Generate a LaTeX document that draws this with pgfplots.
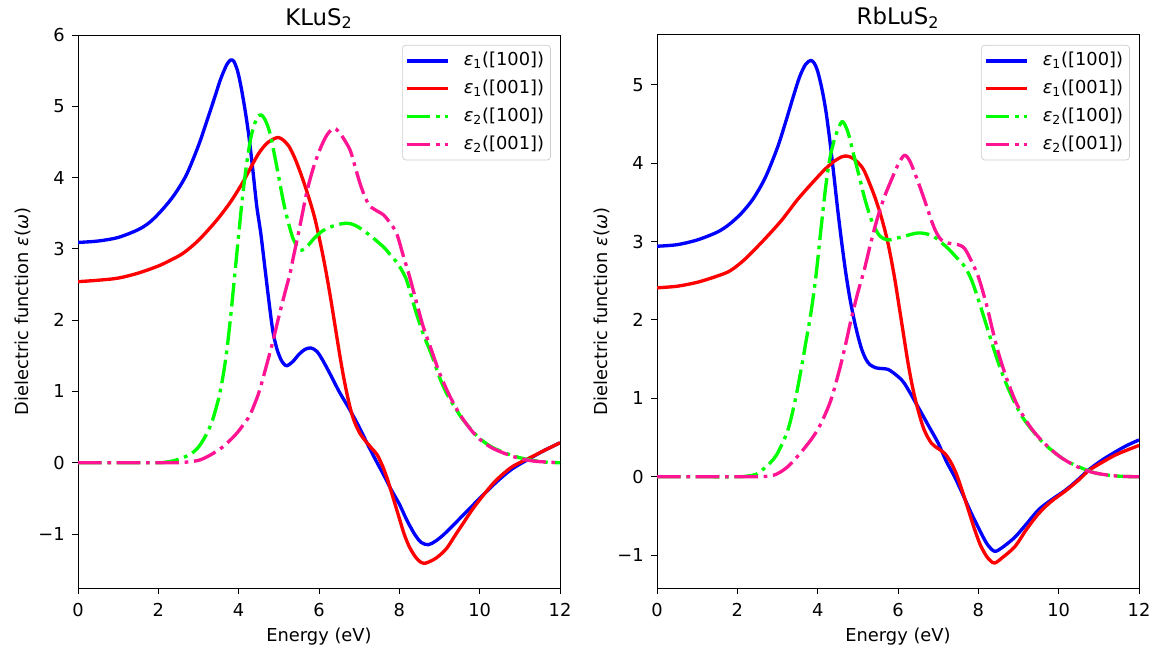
\documentclass[border=0pt]{standalone}
\usepackage{fontspec}
\setmainfont{DejaVu Sans}
\usepackage{pgfplots}
\pgfplotsset{compat=1.18}
\definecolor{mpink}{RGB}{255,20,147}
\definecolor{mgreen}{RGB}{0,255,0}
\begin{document}
\fontsize{10.7pt}{12.8pt}\selectfont
\begin{tikzpicture}
\pgfplotsset{
  panel/.style={
    scale only axis, width=289.2pt, height=331.8pt,
    xmin=0, xmax=12, xtick={0,2,...,12},
    tick align=outside, major tick length=3.6pt,
    tick style={black, line width=0.6pt},
    axis line style={line width=0.6pt},
    xtick pos=lower, ytick pos=left,
    /pgf/number format/assume math mode=true,
    xticklabel style={anchor=base, inner sep=0pt, yshift=-13.6pt},
    yticklabel style={anchor=east, inner sep=0pt, xshift=-4.2pt},
    xlabel={Energy (eV)},
    ylabel={Dielectric function {\itshape ε}({\itshape ω})},
    xlabel style={at={(axis description cs:0.5,-0.0971)}, anchor=base},
    ylabel style={at={(axis description cs:-0.1037,0.5)}, anchor=base},
    title style={at={(axis description cs:0.5,1)}, anchor=base, font=\fontsize{13.7pt}{16pt}\selectfont},
    legend cell align=left,
    legend style={at={(axis description cs:0.981,0.982)}, anchor=north east,
      draw=black!20, fill=white, rounded corners=2pt, inner xsep=1.5pt, inner ysep=1pt,
      row sep=0pt, column sep=6pt, font=\fontsize{10.7pt}{12.8pt}\selectfont,
      nodes={inner sep=2.35pt, text height=9pt, text depth=3pt}},
    legend image code/.code={\draw[##1] (0pt,0pt) -- (25pt,0pt);},
  },
  c1/.style={blue, line width=2pt, smooth, line join=round},
  c2/.style={red, line width=2pt, smooth, line join=round},
  c3/.style={mgreen, line width=2pt, smooth, line join=round, dash pattern=on 14.2pt off 3.4pt on 2.2pt off 3.4pt},
  c4/.style={mpink, line width=2pt, smooth, line join=round, dash pattern=on 14.2pt off 3.4pt on 2.2pt off 3.4pt},
}
% ---------------- KLuS2 ----------------
\begin{axis}[panel, at={(46.8pt,40.2pt)}, anchor=south west,
  ymin=-1.757, ymax=6.0, ytick={-1,0,...,6},
  yticklabels={−1,0,1,2,3,4,5,6},
  title={KLuS\textsubscript{2}}]
\addplot[c1] coordinates {
(0,3.09)(0.5,3.11)(1.0,3.16)(1.5,3.27)(1.8,3.38)(2.1,3.55)(2.4,3.76)(2.7,4.04)
(3.0,4.45)(3.2,4.78)(3.4,5.12)(3.55,5.38)(3.7,5.58)(3.8,5.65)(3.88,5.63)(3.97,5.50)
(4.05,5.30)(4.15,4.98)(4.25,4.60)(4.35,4.12)(4.45,3.60)(4.55,3.22)(4.65,2.75)
(4.75,2.28)(4.85,1.85)(4.95,1.60)(5.05,1.45)(5.12,1.39)(5.2,1.36)(5.35,1.42)
(5.5,1.52)(5.65,1.59)(5.8,1.61)(5.95,1.56)(6.1,1.43)(6.3,1.22)(6.5,1.0)(6.77,0.74)
(7.0,0.50)(7.2,0.27)(7.4,0.05)(7.6,-0.16)(7.8,-0.38)(8.0,-0.58)(8.2,-0.82)(8.4,-1.02)
(8.55,-1.12)(8.72,-1.15)(8.9,-1.10)(9.1,-1.01)(9.3,-0.90)(9.65,-0.70)(10.0,-0.50)
(10.42,-0.27)(10.8,-0.09)(11.25,0.06)(11.6,0.17)(12,0.28)};
\addlegendentry{{\itshape ε}\textsubscript{1}([100])}
\addplot[c2] coordinates {
(0,2.54)(0.5,2.56)(1.0,2.59)(1.5,2.66)(2.0,2.76)(2.3,2.84)(2.62,2.94)(3.0,3.12)
(3.45,3.40)(3.8,3.66)(4.1,3.93)(4.3,4.14)(4.5,4.34)(4.7,4.48)(4.9,4.55)(5.0,4.56)
(5.1,4.53)(5.25,4.44)(5.4,4.27)(5.55,4.05)(5.7,3.80)(5.8,3.62)(5.9,3.42)(6.0,3.17)
(6.1,2.90)(6.2,2.60)(6.3,2.27)(6.4,1.92)(6.52,1.50)(6.62,1.18)(6.73,0.88)(6.82,0.68)
(6.9,0.55)(7.02,0.41)(7.15,0.31)(7.3,0.21)(7.45,0.11)(7.6,-0.07)(7.72,-0.26)
(7.85,-0.50)(8.0,-0.78)(8.12,-1.0)(8.25,-1.18)(8.4,-1.32)(8.52,-1.39)(8.64,-1.41)
(8.85,-1.36)(9.0,-1.30)(9.18,-1.20)(9.4,-1.01)(9.6,-0.84)(9.8,-0.67)(10.0,-0.52)
(10.2,-0.38)(10.42,-0.24)(10.8,-0.06)(11.25,0.07)(11.6,0.17)(12,0.28)};
\addlegendentry{{\itshape ε}\textsubscript{1}([001])}
\addplot[c3] coordinates {
(0,0)(1.0,0)(2.0,0)(2.2,0.01)(2.4,0.03)(2.6,0.07)(2.8,0.12)(3.0,0.22)(3.2,0.40)
(3.35,0.60)(3.5,0.90)(3.6,1.18)(3.7,1.55)(3.8,2.05)(3.9,2.62)(4.0,3.20)(4.1,3.75)
(4.2,4.20)(4.3,4.55)(4.4,4.76)(4.5,4.87)(4.56,4.88)(4.65,4.82)(4.78,4.62)(4.95,4.15)
(5.1,3.7)(5.2,3.45)(5.35,3.15)(5.5,3.0)(5.57,2.98)(5.7,3.03)(5.9,3.16)(6.11,3.26)
(6.4,3.33)(6.69,3.36)(6.9,3.33)(7.2,3.22)(7.6,3.03)(7.77,2.92)(7.95,2.8)(8.1,2.66)
(8.2,2.53)(8.4,2.14)(8.6,1.8)(8.8,1.52)(9.0,1.2)(9.18,0.97)(9.4,0.76)(9.59,0.60)
(9.8,0.46)(10.0,0.34)(10.3,0.22)(10.67,0.13)(11.0,0.07)(11.25,0.04)(11.6,0.01)(12,0.0)};
\addlegendentry{{\itshape ε}\textsubscript{2}([100])}
\addplot[c4] coordinates {
(0,0)(1.0,0)(2.0,0)(2.4,0)(2.6,0.005)(2.8,0.015)(3.04,0.04)(3.3,0.11)(3.6,0.22)
(3.9,0.38)(4.1,0.52)(4.28,0.67)(4.5,0.98)(4.7,1.38)(4.86,1.72)(5.0,2.05)(5.15,2.38)
(5.28,2.66)(5.36,2.88)(5.5,3.25)(5.69,3.78)(5.85,4.12)(6.02,4.39)(6.2,4.6)(6.38,4.69)
(6.55,4.6)(6.77,4.39)(6.9,4.15)(7.02,3.92)(7.15,3.72)(7.27,3.6)(7.45,3.53)(7.6,3.48)
(7.75,3.38)(7.93,3.22)(8.1,2.9)(8.26,2.6)(8.45,2.2)(8.6,1.9)(8.8,1.58)(9.0,1.26)
(9.2,1.0)(9.4,0.78)(9.6,0.6)(9.8,0.45)(10.0,0.33)(10.3,0.21)(10.67,0.12)(11.0,0.06)
(11.4,0.02)(12,0.0)};
\addlegendentry{{\itshape ε}\textsubscript{2}([001])}
\end{axis}
% ---------------- RbLuS2 ----------------
\begin{axis}[panel, at={(394.2pt,40.2pt)}, anchor=south west,
  ymin=-1.418, ymax=5.634, ytick={-1,0,...,5},
  yticklabels={−1,0,1,2,3,4,5},
  title={RbLuS\textsubscript{2}}]
\addplot[c1] coordinates {
(0,2.94)(0.5,2.96)(1.0,3.02)(1.5,3.12)(1.8,3.22)(2.1,3.36)(2.4,3.55)(2.7,3.82)
(3.0,4.20)(3.2,4.52)(3.4,4.86)(3.55,5.10)(3.7,5.26)(3.83,5.31)(3.92,5.27)(4.0,5.17)
(4.1,4.96)(4.2,4.68)(4.3,4.30)(4.4,3.86)(4.5,3.40)(4.6,2.98)(4.7,2.60)(4.8,2.28)
(4.9,2.02)(5.0,1.80)(5.1,1.62)(5.2,1.50)(5.3,1.43)(5.45,1.39)(5.6,1.38)(5.75,1.37)
(5.95,1.30)(6.16,1.19)(6.5,0.89)(6.75,0.66)(7.0,0.43)(7.2,0.20)(7.41,0.0)
(7.6,-0.21)(7.83,-0.47)(8.1,-0.75)(8.25,-0.88)(8.41,-0.95)(8.6,-0.90)(8.91,-0.77)
(9.2,-0.60)(9.5,-0.42)(9.8,-0.30)(10.17,-0.17)(10.45,-0.05)(10.75,0.09)(11.1,0.22)
(11.42,0.32)(11.7,0.40)(12,0.47)};
\addlegendentry{{\itshape ε}\textsubscript{1}([100])}
\addplot[c2] coordinates {
(0,2.41)(0.5,2.43)(1.0,2.48)(1.5,2.56)(1.83,2.63)(2.2,2.78)(2.66,3.02)(3.1,3.27)
(3.49,3.53)(3.85,3.74)(4.16,3.91)(4.4,4.02)(4.6,4.08)(4.72,4.09)(4.85,4.07)(5.0,4.01)
(5.16,3.90)(5.4,3.6)(5.58,3.32)(5.75,2.98)(5.91,2.55)(6.05,2.1)(6.25,1.45)(6.38,1.1)
(6.5,0.85)(6.65,0.6)(6.83,0.43)(7.0,0.36)(7.16,0.30)(7.3,0.2)(7.45,0.04)(7.6,-0.18)
(7.75,-0.42)(7.9,-0.66)(8.05,-0.87)(8.2,-1.01)(8.3,-1.07)(8.41,-1.10)(8.6,-1.03)
(8.91,-0.89)(9.2,-0.67)(9.5,-0.47)(9.8,-0.32)(10.17,-0.18)(10.5,-0.04)(10.75,0.08)
(11.1,0.19)(11.42,0.28)(11.7,0.34)(12,0.40)};
\addlegendentry{{\itshape ε}\textsubscript{1}([001])}
\addplot[c3] coordinates {
(0,0)(1.0,0)(2.0,0)(2.25,0.01)(2.5,0.04)(2.8,0.17)(3.0,0.3)(3.26,0.6)(3.45,1.0)
(3.63,1.49)(3.7,1.7)(3.82,2.05)(3.95,2.53)(4.08,3.15)(4.2,3.70)(4.3,4.05)(4.41,4.29)
(4.52,4.45)(4.62,4.53)(4.75,4.4)(4.91,4.08)(5.05,3.8)(5.16,3.57)(5.3,3.33)(5.41,3.19)
(5.55,3.07)(5.75,3.02)(6.1,3.06)(6.5,3.11)(6.83,3.08)(7.05,3.0)(7.25,2.91)(7.45,2.8)
(7.66,2.68)(7.83,2.51)(8.0,2.26)(8.16,2.0)(8.33,1.72)(8.5,1.45)(8.7,1.18)(8.91,0.94)
(9.1,0.76)(9.33,0.60)(9.6,0.44)(9.92,0.30)(10.2,0.2)(10.58,0.11)(10.9,0.05)(11.25,0.02)
(11.6,0.005)(12,0.0)};
\addlegendentry{{\itshape ε}\textsubscript{2}([100])}
\addplot[c4] coordinates {
(0,0)(1.0,0)(2.0,0)(2.5,0)(2.7,0.005)(2.9,0.02)(3.07,0.06)(3.3,0.15)(3.63,0.34)
(3.9,0.52)(4.1,0.7)(4.33,0.98)(4.55,1.38)(4.7,1.7)(4.83,2.0)(5.0,2.35)(5.16,2.64)
(5.33,3.0)(5.5,3.32)(5.67,3.58)(5.83,3.78)(6.0,3.98)(6.16,4.10)(6.3,4.02)(6.5,3.76)
(6.68,3.5)(6.83,3.27)(6.95,3.12)(7.08,3.02)(7.25,2.98)(7.41,2.97)(7.55,2.95)(7.66,2.91)
(7.8,2.78)(8.0,2.55)(8.2,2.2)(8.35,1.88)(8.5,1.58)(8.7,1.26)(8.91,0.98)(9.1,0.79)
(9.33,0.61)(9.6,0.45)(9.92,0.30)(10.2,0.2)(10.58,0.1)(10.9,0.05)(11.25,0.02)(11.6,0.005)
(12,0.0)};
\addlegendentry{{\itshape ε}\textsubscript{2}([001])}
\end{axis}
\pgfresetboundingbox
\path (0,0) rectangle (694.8pt,393pt);
\end{tikzpicture}
\end{document}
